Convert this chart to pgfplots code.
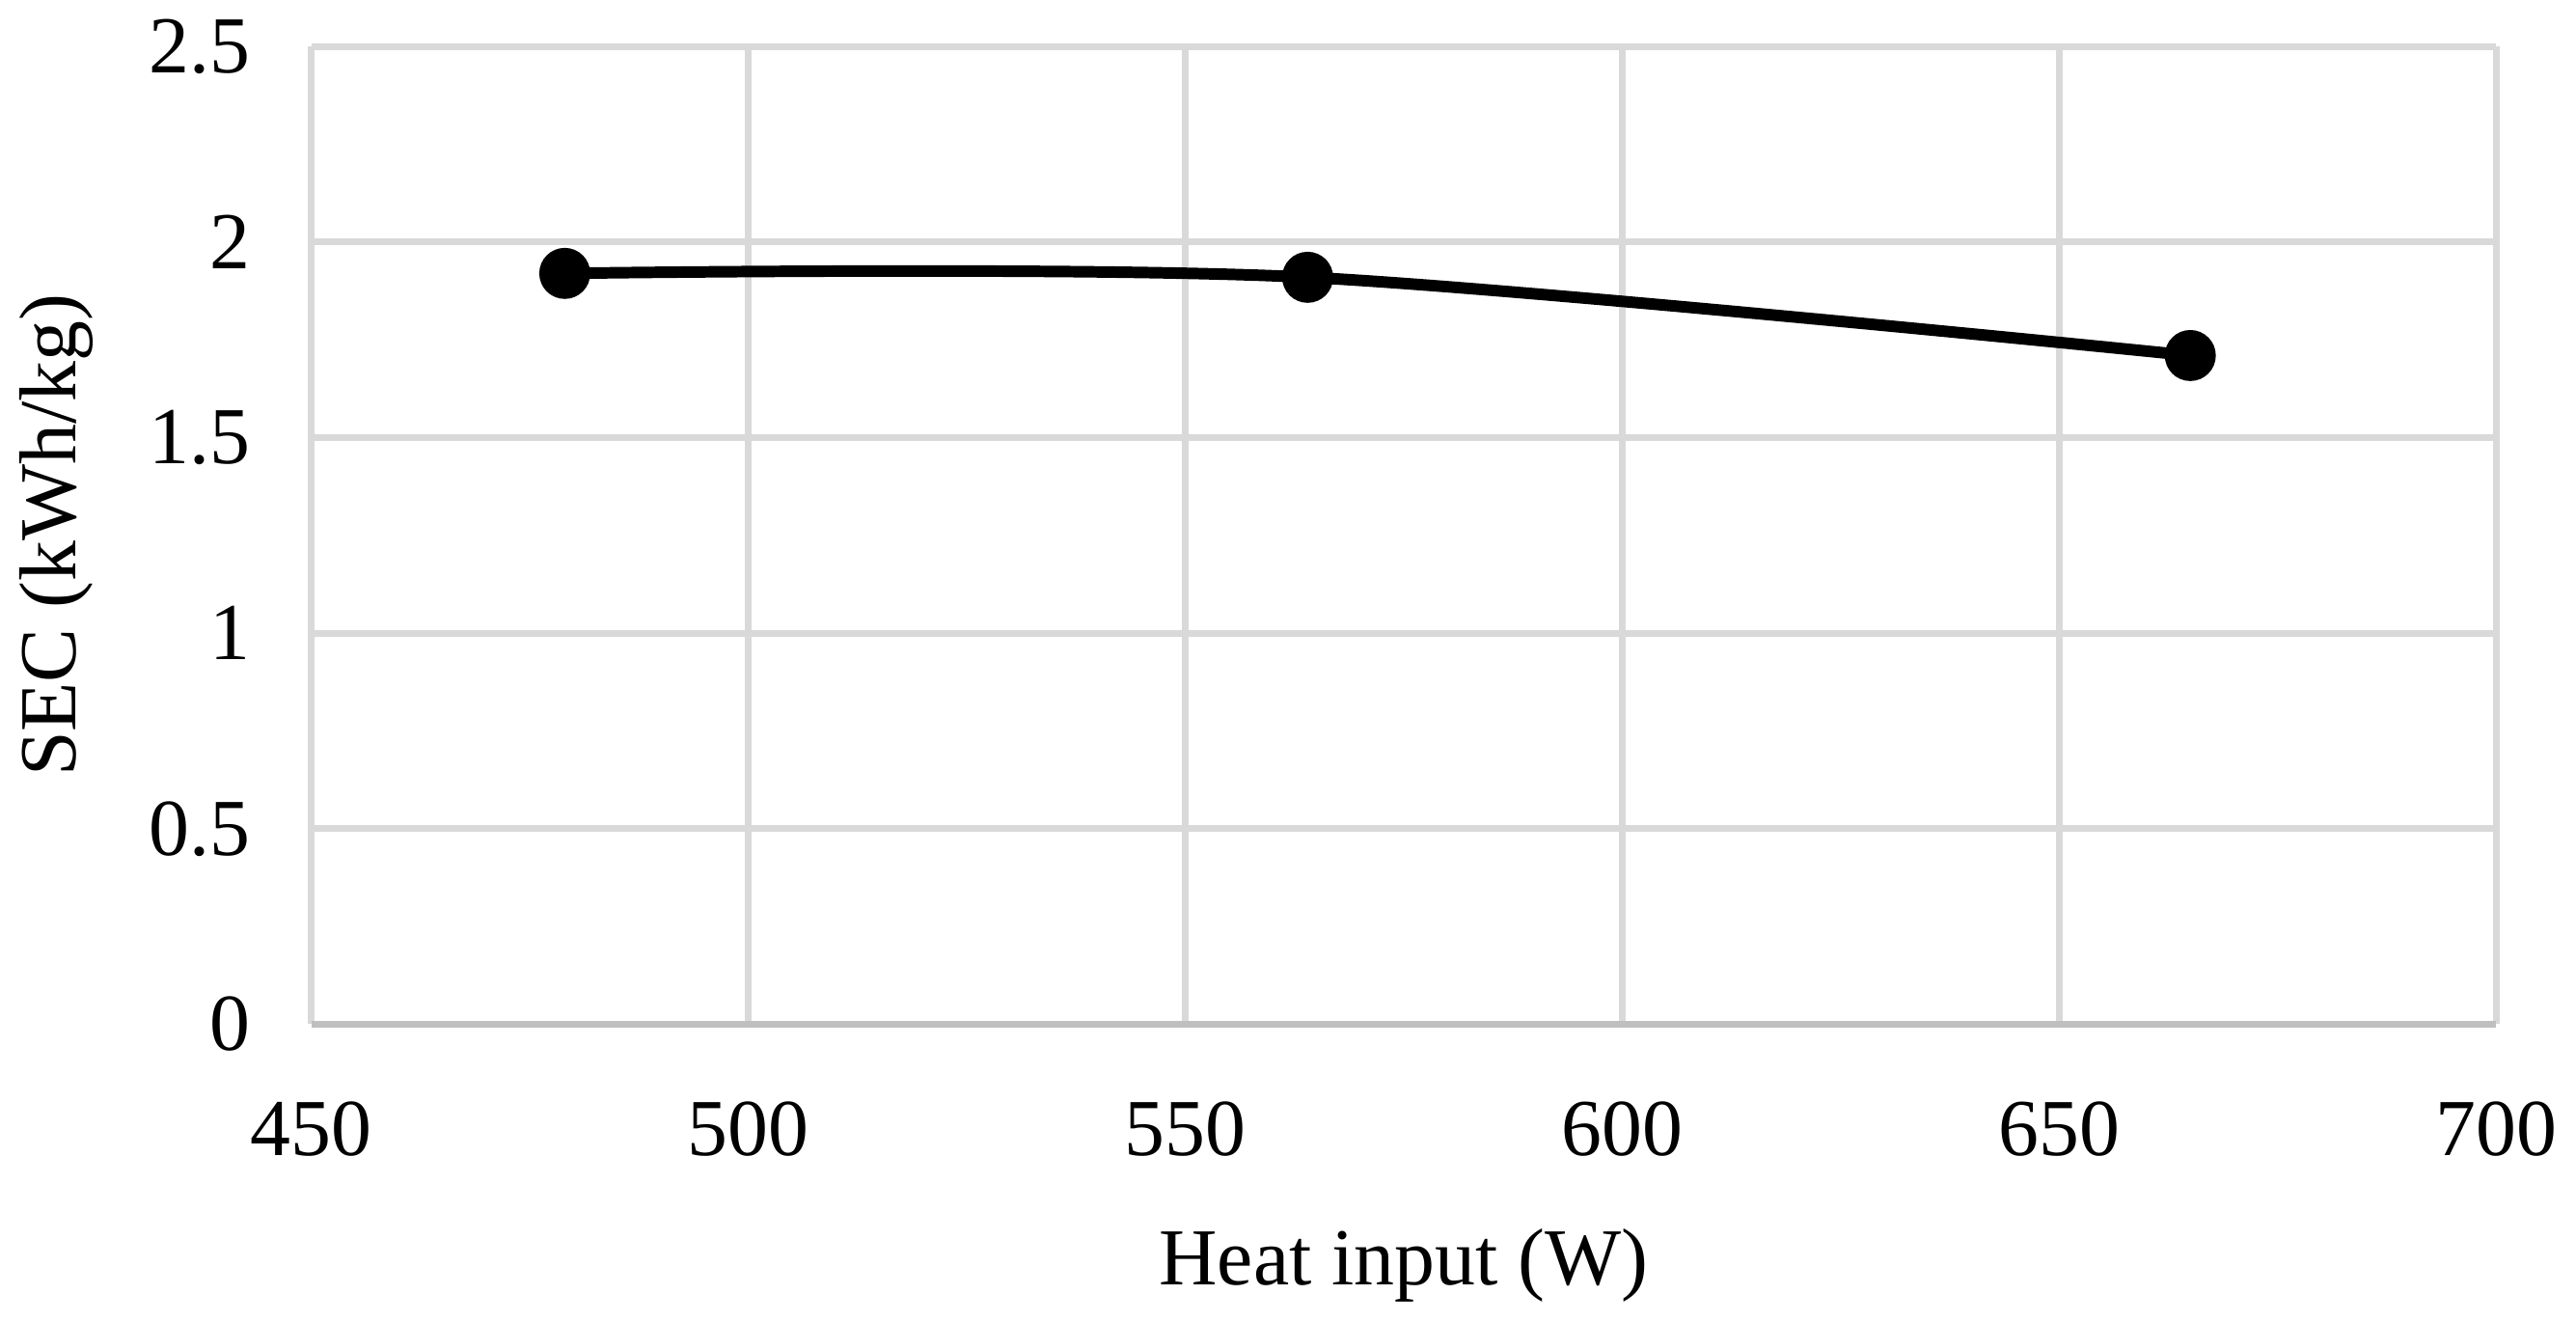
\documentclass[border=0pt]{standalone}
\usepackage{pgfplots}
\pgfplotsset{compat=1.18}
\usepackage{fontspec}
\setmainfont{Liberation Serif}
\begin{document}
\begin{tikzpicture}
\begin{axis}[
  scale only axis, width=13.3cm, height=5.95cm,
  xmin=450, xmax=700, ymin=0, ymax=2.5,
  xtick={450,500,...,700}, ytick={0,0.5,...,2.5},
  yticklabels={0,0.5,1,1.5,2,2.5},
  grid=major, major grid style={draw=black!15, line width=1.2pt},
  axis line style={draw=none}, 
  axis x line*=bottom, axis y line*=left,
  x axis line style={draw=black!25,line width=1.2pt},
  tick style={draw=none},
  /pgf/number format/assume math mode=true,
  tick label style={font=\fontsize{14}{16}\selectfont},
  label style={font=\fontsize{14}{16}\selectfont},
  xticklabel style={yshift=-0.35cm},
  yticklabel style={xshift=-0.25cm},
  xlabel={Heat input (W)}, ylabel={SEC (kWh/kg)},
  xlabel style={yshift=-0.2cm},
  ylabel style={yshift=0.1cm},
  clip=false,
]
\addplot[black, line width=2pt, smooth, mark=*, mark size=0.12cm, mark options={fill=black}]
  coordinates {(479,1.92) (564,1.91) (665,1.71)};
\end{axis}
\end{tikzpicture}
\end{document}
